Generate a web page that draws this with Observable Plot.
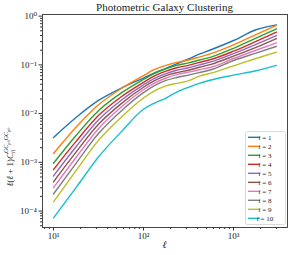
<!DOCTYPE html>
<html><head><meta charset="utf-8">
<script src="https://cdn.jsdelivr.net/npm/d3@7"></script>
<script src="https://cdn.jsdelivr.net/npm/@observablehq/plot@0.6"></script>
<style>body{margin:0;background:#fff} svg{display:block}</style>
</head><body><div id="chart"></div>
<script>
// multipoles (ℓ)
const ells = [10, 17.8, 31.6, 56.2, 100, 131, 177.8, 234, 316, 417, 562, 1000, 1778, 3000];
const bins = ["1","2","3","4","5","6","7","8","9","10"];
// log10 of ℓ(ℓ+1)C_ii, one array per bin
const logC_1  = [-2.49,-2.08,-1.73,-1.48,-1.27,-1.17,-1.07,-0.98,-0.88,-0.78,-0.69,-0.50,-0.28,-0.18];
const logC_2  = [-2.82,-2.28,-1.82,-1.49,-1.22,-1.10,-1.01,-0.95,-0.90,-0.84,-0.77,-0.59,-0.38,-0.19];
const logC_3  = [-3.02,-2.45,-1.94,-1.58,-1.30,-1.18,-1.08,-1.01,-0.96,-0.90,-0.84,-0.66,-0.45,-0.26];
const logC_4  = [-3.15,-2.57,-2.04,-1.66,-1.36,-1.23,-1.13,-1.06,-1.01,-0.95,-0.89,-0.72,-0.52,-0.33];
const logC_5  = [-3.28,-2.68,-2.13,-1.73,-1.41,-1.28,-1.18,-1.11,-1.06,-1.00,-0.94,-0.77,-0.58,-0.40];
const logC_6  = [-3.40,-2.79,-2.22,-1.80,-1.46,-1.33,-1.22,-1.16,-1.11,-1.05,-0.99,-0.82,-0.64,-0.46];
const logC_7  = [-3.52,-2.90,-2.31,-1.87,-1.51,-1.38,-1.27,-1.20,-1.15,-1.10,-1.05,-0.87,-0.70,-0.55];
const logC_8  = [-3.65,-3.02,-2.41,-1.95,-1.57,-1.43,-1.32,-1.26,-1.21,-1.16,-1.10,-0.91,-0.76,-0.62];
const logC_9  = [-3.81,-3.17,-2.55,-2.08,-1.68,-1.54,-1.43,-1.38,-1.33,-1.23,-1.17,-1.02,-0.87,-0.74];
const logC_10 = [-4.14,-3.52,-2.89,-2.38,-1.91,-1.79,-1.68,-1.56,-1.46,-1.38,-1.31,-1.21,-1.12,-1.01];
const series = [logC_1,logC_2,logC_3,logC_4,logC_5,logC_6,logC_7,logC_8,logC_9,logC_10];
const colors = ["#1f77b4","#ff7f0e","#2ca02c","#d62728","#9467bd","#8c564b","#e377c2","#7f7f7f","#bcbd22","#17becf"];

const xMajor = [10, 100, 1000];
const xMajorLabels = ["10¹","10²","10³"];
const xMinor = [8,9,20,30,40,50,60,70,80,90,200,300,400,500,600,700,800,900,2000,3000];
const yMajor = [1e-4, 1e-3, 1e-2, 1e-1, 1];
const yMajorLabels = ["10⁻⁴","10⁻³","10⁻²","10⁻¹","10⁰"];
const yMinor = [];
for (const e of [-5,-4,-3,-2,-1]) for (const m of [2,3,4,5,6,7,8,9]) { const v = m * 10 ** e; if (v > 4.6e-5 && v < 1) yMinor.push(v); }

const titleText = "Photometric Galaxy Clustering";
const xLabel = "ℓ";

const rows = [];
series.forEach((s, k) => s.forEach((lv, j) => rows.push({ell: ells[j], c: 10 ** lv, bin: bins[k]})));

const M = {top: 14, bottom: 28, left: 42, right: 4};
const W = 291, H = 255;
const font = "'Liberation Serif', 'DejaVu Serif', serif";

const chart = Plot.plot({
  width: W, height: H,
  marginTop: M.top, marginBottom: M.bottom, marginLeft: M.left, marginRight: M.right,
  style: {fontFamily: font, fontSize: "9px", background: "white", color: "#222"},
  x: {type: "log", domain: [7.55, 3981]},
  y: {type: "log", domain: [4.6e-5, 1.08]},
  color: {domain: bins, range: colors},
  marks: [
    Plot.line(rows, {x: "ell", y: "c", z: "bin", stroke: "bin", strokeWidth: 1.4, curve: "monotone-x"}),
    Plot.axisX({ticks: xMinor, tickSize: 2, tickFormat: () => "", label: null, stroke: "#333"}),
    Plot.axisX({ticks: xMajor, tickSize: 3.5, tickPadding: 2, tickFormat: d => xMajorLabels[xMajor.indexOf(d)], label: null, stroke: "#333", fontSize: 9}),
    Plot.axisY({ticks: yMinor, tickSize: 2, tickFormat: () => "", label: null, stroke: "#333"}),
    Plot.axisY({ticks: yMajor, tickSize: 3.5, tickPadding: 2, tickFormat: d => yMajorLabels[yMajor.indexOf(d)], label: null, stroke: "#333", fontSize: 9}),
    Plot.frame({stroke: "#333", strokeWidth: 0.9})
  ]
});
document.getElementById("chart").appendChild(chart);

const svg = d3.select(chart);
const cx = (M.left + (W - M.right)) / 2;
svg.append("text").attr("x", cx).attr("y", 11).attr("text-anchor", "middle")
  .attr("font-family", font).attr("font-size", 11).attr("fill", "#222").text(titleText);
svg.append("text").attr("x", cx).attr("y", 248).attr("text-anchor", "middle")
  .attr("font-family", font).attr("font-size", 10).attr("font-style", "italic").attr("fill", "#222").text(xLabel);

// y label with sub/superscripts
const yl = svg.append("text").attr("transform", "translate(13,157) rotate(-90)")
  .attr("font-family", font).attr("font-size", 9).attr("fill", "#222");
yl.append("tspan").attr("font-style", "italic").text("ℓ");
yl.append("tspan").text("(");
yl.append("tspan").attr("font-style", "italic").text("ℓ");
yl.append("tspan").text(" + 1)");
yl.append("tspan").attr("font-style", "italic").text("C");
yl.append("tspan").attr("font-size", 6).attr("font-style", "italic").attr("dy", 2).text("ii");
yl.append("tspan").attr("font-size", 6).attr("font-style", "italic").attr("dx", -3.4).attr("dy", -7).text("GC");
yl.append("tspan").attr("font-size", 4.5).attr("font-style", "italic").attr("dy", 1.5).text("ph");
yl.append("tspan").attr("font-size", 6).attr("font-style", "italic").attr("dy", -1.5).text("GC");
yl.append("tspan").attr("font-size", 4.5).attr("font-style", "italic").attr("dy", 1.5).text("ph");

// legend
const lg = svg.append("g");
lg.append("rect").attr("x", 245.5).attr("y", 131.5).attr("width", 40).attr("height", 93)
  .attr("rx", 2).attr("fill", "white").attr("fill-opacity", 0.85).attr("stroke", "#d0d0d0").attr("stroke-width", 0.8);
bins.forEach((b, k) => {
  const y = 137.3 + 9 * k;
  lg.append("line").attr("x1", 248).attr("x2", 260).attr("y1", y).attr("y2", y)
    .attr("stroke", colors[k]).attr("stroke-width", 1.4);
  const t = lg.append("text").attr("x", 265).attr("y", y + 2.4)
    .attr("font-family", font).attr("font-size", 7).attr("fill", "#222");
  t.append("tspan").attr("font-style", "italic").text("i");
  t.append("tspan").text(" = " + b);
});
</script>
</body></html>
